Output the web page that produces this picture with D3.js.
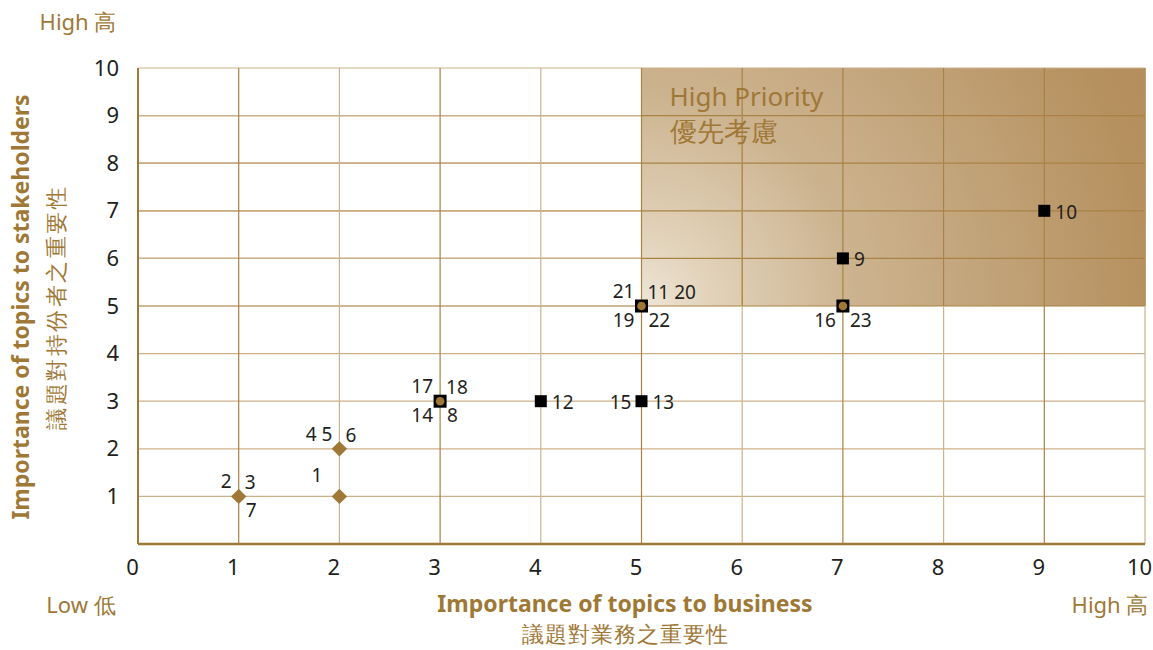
<!DOCTYPE html>
<html>
<head>
<meta charset="utf-8">
<script src="https://cdn.jsdelivr.net/npm/d3@7/dist/d3.min.js"></script>
<style>
  body { margin: 0; background: #fff; }
  svg text { font-family: "Noto Sans", "Open Sans", sans-serif; }
</style>
</head>
<body>
<svg id="chart" width="1153" height="650"></svg>
<script>
// topic numbers and their scores
var topicIds   = [1, 2, 3, 4, 5, 6, 7, 8, 9, 10, 11, 12, 13, 14, 15, 16, 17, 18, 19, 20, 21, 22, 23];
var bizScore   = [2, 1, 1, 2, 2, 2, 1, 3, 7, 9, 5, 4, 5, 3, 5, 7, 3, 3, 5, 5, 5, 5, 7];
var stakeScore = [1, 1, 1, 2, 2, 2, 1, 3, 6, 7, 5, 3, 3, 3, 3, 5, 3, 3, 5, 5, 5, 5, 5];
// where the number sits beside its marker
var labelSide  = ["nnw", "nw", "ne", "nw", "nw", "ne", "se", "se", "e", "e", "ne", "e", "e", "sw", "w", "sw", "nw", "ne", "sw", "ne", "nw", "se", "se"];
// marker type for each point location
var markerType = ["diamond", "diamond", "diamond", "diamond", "diamond", "diamond", "diamond", "dot", "square", "square", "dot", "square", "square", "dot", "square", "dot", "dot", "dot", "dot", "dot", "dot", "dot", "dot"];

var xTicks = [0, 1, 2, 3, 4, 5, 6, 7, 8, 9, 10];
var yTicks = [1, 2, 3, 4, 5, 6, 7, 8, 9, 10];
var priorityZone = [5, 10, 5, 10]; // x from, x to, y from, y to

var brown = "#a07836";
var ink = "#231f20";

var svg = d3.select("#chart");
var x = d3.scaleLinear().domain([0, 10]).range([138, 1145]);
var y = d3.scaleLinear().domain([0, 10]).range([544, 68]);

// gradient for the high priority block (light at its lower-left corner)
var defs = svg.append("defs");
var grad = defs.append("radialGradient").attr("id", "prio")
  .attr("gradientUnits", "userSpaceOnUse")
  .attr("cx", x(priorityZone[0])).attr("cy", y(priorityZone[2]))
  .attr("fx", x(priorityZone[0])).attr("fy", y(priorityZone[2]))
  .attr("r", 560);
[["0%", "#efe6d8"], ["12%", "#e2d3bb"], ["38%", "#ccb38f"], ["90%", "#b69160"], ["100%", "#b48e5c"]]
  .forEach(function(s) { grad.append("stop").attr("offset", s[0]).attr("stop-color", s[1]); });

svg.append("rect")
  .attr("x", x(priorityZone[0])).attr("y", y(priorityZone[3]))
  .attr("width", x(priorityZone[1]) - x(priorityZone[0]))
  .attr("height", y(priorityZone[2]) - y(priorityZone[3]))
  .attr("fill", "url(#prio)");

// grid
var grid = svg.append("g");
grid.selectAll("line.h").data(yTicks).enter().append("line")
  .attr("x1", x(0)).attr("x2", x(10))
  .attr("y1", function(d) { return y(d); }).attr("y2", function(d) { return y(d); })
  .attr("stroke", function(d) { return d >= 5 && d < 10 ? "#a98244" : "#cbb089"; })
  .attr("stroke-width", 1.2);
grid.selectAll("line.hz").data(yTicks.filter(function(d) { return d >= 5 && d < 10; })).enter().append("line")
  .attr("x1", x(0)).attr("x2", x(5))
  .attr("y1", function(d) { return y(d); }).attr("y2", function(d) { return y(d); })
  .attr("stroke", "#cbb089").attr("stroke-width", 1.2);
grid.selectAll("line.v").data(xTicks.slice(1)).enter().append("line")
  .attr("y1", y(0)).attr("y2", y(10))
  .attr("x1", function(d) { return x(d); }).attr("x2", function(d) { return x(d); })
  .attr("stroke", function(d) { return d % 2 === 1 ? "#a98244" : "#cdb38c"; })
  .attr("stroke-width", 1.2);
// even verticals turn darker inside the block
grid.selectAll("line.vz").data(xTicks.filter(function(d) { return d > 5 && d % 2 === 0; })).enter().append("line")
  .attr("y1", y(5)).attr("y2", y(10))
  .attr("x1", function(d) { return x(d); }).attr("x2", function(d) { return x(d); })
  .attr("stroke", "#a98244").attr("stroke-width", 1.2);

// axes lines
svg.append("line").attr("x1", x(0)).attr("x2", x(10)).attr("y1", y(0)).attr("y2", y(0))
  .attr("stroke", brown).attr("stroke-width", 2.5);
svg.append("line").attr("x1", x(0)).attr("x2", x(0)).attr("y1", y(0)).attr("y2", y(10))
  .attr("stroke", brown).attr("stroke-width", 2);

// tick labels
var xAxis = svg.append("g").attr("transform", "translate(0," + y(0) + ")")
  .call(d3.axisBottom(x).tickValues(xTicks).tickSize(0).tickPadding(15).tickFormat(d3.format("d")));
xAxis.select(".domain").remove();
xAxis.selectAll("text").attr("font-size", 22).attr("fill", ink).attr("dx", "-6");

var yAxis = svg.append("g").attr("transform", "translate(" + x(0) + ",0)")
  .call(d3.axisLeft(y).tickValues(yTicks).tickSize(0).tickPadding(19).tickFormat(d3.format("d")));
yAxis.select(".domain").remove();
yAxis.selectAll("text").attr("font-size", 22).attr("fill", ink);

// high priority caption
svg.append("text").attr("x", x(5) + 28).attr("y", y(10) + 38)
  .attr("font-size", 26).attr("fill", brown).text("High Priority");
svg.append("text").attr("x", x(5) + 28).attr("y", y(10) + 73)
  .attr("font-size", 27).attr("fill", brown).text("優先考慮");

// axis captions
svg.append("text").attr("x", 78).attr("y", 30).attr("text-anchor", "middle")
  .attr("font-size", 22).attr("fill", brown).text("High 高");
svg.append("text").attr("x", 81).attr("y", 613).attr("text-anchor", "middle")
  .attr("font-size", 22).attr("fill", brown).text("Low 低");
svg.append("text").attr("x", 1110).attr("y", 613).attr("text-anchor", "middle")
  .attr("font-size", 22).attr("fill", brown).text("High 高");
svg.append("text").attr("x", 625).attr("y", 612).attr("text-anchor", "middle")
  .attr("font-size", 23).attr("font-weight", "bold").attr("fill", brown)
  .text("Importance of topics to business");
svg.append("text").attr("x", 625).attr("y", 642).attr("text-anchor", "middle")
  .attr("font-size", 22).attr("letter-spacing", 1).attr("fill", brown).text("議題對業務之重要性");
svg.append("text").attr("transform", "translate(29,307) rotate(-90)").attr("text-anchor", "middle")
  .attr("font-size", 23).attr("font-weight", "bold").attr("fill", brown)
  .text("Importance of topics to stakeholders");
svg.append("text").attr("transform", "translate(64,307) rotate(-90)").attr("text-anchor", "middle")
  .attr("font-size", 22).attr("fill", brown).attr("letter-spacing", 2.5).text("議題對持份者之重要性");

// unique point locations
var points = d3.groups(topicIds.map(function(id, i) {
  return { id: id, bx: bizScore[i], sy: stakeScore[i], side: labelSide[i], type: markerType[i] };
}), function(d) { return d.bx + "," + d.sy; });

var marks = svg.append("g");
points.forEach(function(p) {
  var first = p[1][0];
  var px = x(first.bx), py = y(first.sy);
  if (first.type === "diamond") {
    marks.append("path").attr("d", d3.symbol().type(d3.symbolDiamond2).size(150)())
      .attr("transform", "translate(" + px + "," + py + ")")
      .attr("fill", brown);
  } else {
    var s = first.type === "dot" ? 13 : 12;
    marks.append("rect").attr("x", px - s / 2).attr("y", py - s / 2)
      .attr("width", s).attr("height", s).attr("fill", "#000");
    if (first.type === "dot") {
      marks.append("circle").attr("cx", px).attr("cy", py).attr("r", 4.3).attr("fill", brown);
    }
  }
});

// topic numbers
var offsets = {
  nw: [-7, -8, "end"], ne: [6, -7, "start"], nnw: [-17, -14, "end"],
  sw: [-7, 21, "end"], se: [7, 21, "start"],
  e: [11, 8, "start"], w: [-10, 8, "end"]
};
var labels = [];
points.forEach(function(p) {
  d3.groups(p[1], function(d) { return d.side; }).forEach(function(g) {
    labels.push({ bx: g[1][0].bx, sy: g[1][0].sy, side: g[0],
      text: g[1].map(function(d) { return d.id; }).join(" ") });
  });
});
svg.append("g").selectAll("text").data(labels).enter().append("text")
  .attr("x", function(d) { return x(d.bx) + offsets[d.side][0]; })
  .attr("y", function(d) { return y(d.sy) + offsets[d.side][1]; })
  .attr("text-anchor", function(d) { return offsets[d.side][2]; })
  .attr("font-size", 19).attr("fill", ink)
  .text(function(d) { return d.text; });
</script>
</body>
</html>
